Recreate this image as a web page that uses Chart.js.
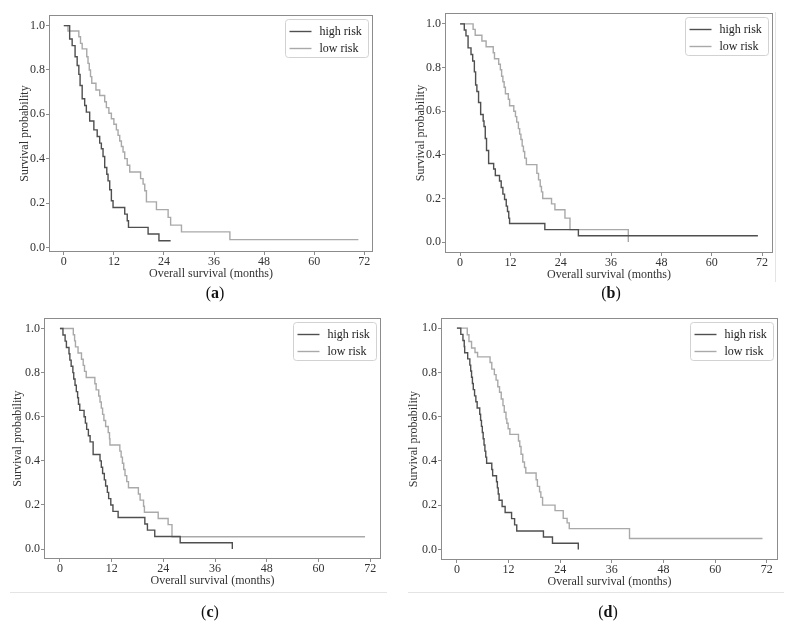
<!DOCTYPE html>
<html>
<head>
<meta charset="utf-8">
<script src="https://cdn.jsdelivr.net/npm/chart.js@4.4.1/dist/chart.umd.min.js"></script>
<style>
  body { margin: 0; background: #fff; width: 792px; height: 626px; position: relative; overflow: hidden; font-family: "Liberation Serif", serif; }
  canvas { position: absolute; }
  .lab { position: absolute; font-size: 16px; color: #111; transform: translate(-50%, -50%); z-index: 2; }
  .edge { position: absolute; background: #e4e4e4; }
</style>
</head>
<body>
<canvas id="chartA" width="396" height="300" style="left:0;top:0"></canvas>
<canvas id="chartB" width="396" height="300" style="left:396px;top:0"></canvas>
<canvas id="chartC" width="396" height="300" style="left:0;top:310px"></canvas>
<canvas id="chartD" width="396" height="300" style="left:396px;top:310px"></canvas>

<div class="edge" style="left:775px;top:12px;width:1px;height:270px"></div>
<div class="edge" style="left:10px;top:592px;width:377px;height:1px"></div>
<div class="edge" style="left:408px;top:592px;width:376px;height:1px"></div>

<div class="lab" style="left:215px;top:293px">(<b>a</b>)</div>
<div class="lab" style="left:611px;top:293px">(<b>b</b>)</div>
<div class="lab" style="left:210px;top:612px">(<b>c</b>)</div>
<div class="lab" style="left:608px;top:612px">(<b>d</b>)</div>

<script>
// Kaplan-Meier curves (months, survival probability)
const groupLabels = ['high risk', 'low risk'];
const xTicks = [0, 12, 24, 36, 48, 60, 72];
const yTicks = [0.0, 0.2, 0.4, 0.6, 0.8, 1.0];

// (a)
const aHighMonths = [0, 1.4, 2.0, 2.7, 3.2, 3.6, 3.9, 4.4, 5.0, 5.4, 6.2, 7.2, 8.0, 8.6, 9.0, 9.4, 9.8, 10.3, 10.6, 11.0, 11.4, 11.8, 14.6, 15.2, 15.5, 20.2, 22.8, 25.6];
const aHighSurv   = [1.0, 0.94, 0.91, 0.86, 0.82, 0.78, 0.73, 0.67, 0.64, 0.61, 0.57, 0.53, 0.50, 0.47, 0.445, 0.41, 0.36, 0.33, 0.30, 0.26, 0.21, 0.18, 0.15, 0.12, 0.09, 0.06, 0.03, 0.03];
const aLowMonths  = [0, 1.0, 3.6, 4.0, 4.4, 5.5, 5.8, 6.1, 6.4, 6.7, 7.7, 8.6, 9.8, 10.2, 10.8, 11.4, 12.0, 12.6, 13.0, 13.4, 13.8, 14.2, 14.6, 15.2, 15.8, 18.4, 19.0, 19.4, 19.8, 22.2, 25.0, 25.6, 28.2, 39.8, 70.6];
const aLowSurv    = [1.0, 0.976, 0.95, 0.92, 0.895, 0.86, 0.83, 0.80, 0.77, 0.74, 0.71, 0.685, 0.657, 0.63, 0.605, 0.58, 0.555, 0.53, 0.505, 0.48, 0.455, 0.43, 0.40, 0.37, 0.34, 0.31, 0.285, 0.255, 0.205, 0.17, 0.135, 0.10, 0.07, 0.035, 0.035];

// (b)
const bHighMonths = [0, 1.0, 1.4, 1.9, 2.6, 3.0, 3.4, 3.7, 4.0, 4.4, 4.9, 5.5, 5.7, 6.0, 6.3, 6.8, 8.0, 8.4, 9.4, 9.8, 10.2, 10.6, 11.0, 11.3, 11.6, 11.8, 20.2, 28.2, 71.0];
const bHighSurv   = [1.0, 0.972, 0.945, 0.89, 0.86, 0.83, 0.78, 0.72, 0.69, 0.64, 0.585, 0.555, 0.53, 0.475, 0.42, 0.36, 0.335, 0.305, 0.28, 0.25, 0.22, 0.195, 0.165, 0.14, 0.11, 0.085, 0.057, 0.029, 0.029];
const bLowMonths  = [0, 3.1, 3.6, 5.2, 6.2, 7.9, 8.2, 9.2, 9.6, 9.9, 10.2, 10.5, 10.8, 11.5, 11.8, 12.8, 13.2, 13.5, 13.9, 14.2, 14.5, 14.8, 15.1, 15.4, 15.8, 18.3, 18.7, 19.1, 19.4, 19.7, 21.8, 22.6, 25.0, 26.2, 40.1];
const bLowSurv    = [1.0, 0.975, 0.948, 0.922, 0.895, 0.868, 0.84, 0.815, 0.79, 0.76, 0.735, 0.71, 0.68, 0.655, 0.625, 0.60, 0.575, 0.55, 0.52, 0.495, 0.47, 0.44, 0.415, 0.385, 0.355, 0.315, 0.285, 0.255, 0.23, 0.20, 0.175, 0.148, 0.11, 0.057, 0.0];

// (c)
const cHighMonths = [0, 0.7, 1.2, 1.5, 2.1, 2.3, 2.6, 3.0, 3.2, 3.5, 3.8, 4.1, 4.3, 4.6, 5.6, 5.9, 6.2, 6.6, 7.0, 7.7, 9.3, 9.6, 9.9, 10.3, 10.6, 11.0, 11.3, 11.8, 12.3, 13.5, 19.7, 20.3, 22.0, 27.9, 40.0];
const cHighSurv   = [1.0, 0.971, 0.943, 0.914, 0.886, 0.857, 0.829, 0.80, 0.771, 0.743, 0.714, 0.686, 0.657, 0.629, 0.60, 0.571, 0.543, 0.514, 0.486, 0.429, 0.40, 0.371, 0.343, 0.314, 0.286, 0.257, 0.229, 0.20, 0.171, 0.143, 0.114, 0.086, 0.057, 0.029, 0.0];
const cLowMonths  = [0, 3.1, 3.4, 3.6, 4.2, 5.0, 5.4, 5.7, 6.1, 8.1, 8.4, 9.0, 9.3, 9.6, 9.9, 10.2, 10.6, 11.2, 11.5, 11.6, 13.9, 14.2, 14.5, 14.8, 15.1, 15.5, 15.9, 18.2, 18.6, 19.4, 19.6, 22.8, 25.1, 26.0, 70.8];
const cLowSurv    = [1.0, 0.972, 0.944, 0.917, 0.889, 0.861, 0.833, 0.806, 0.778, 0.75, 0.722, 0.694, 0.667, 0.639, 0.611, 0.583, 0.556, 0.528, 0.50, 0.472, 0.444, 0.417, 0.389, 0.361, 0.333, 0.306, 0.278, 0.25, 0.222, 0.194, 0.167, 0.139, 0.111, 0.056, 0.056];

// (d)
const dHighMonths = [0, 0.9, 1.4, 1.7, 1.8, 2.5, 3.0, 3.2, 3.4, 3.6, 3.8, 4.1, 4.4, 4.7, 5.3, 5.5, 5.7, 5.9, 6.1, 6.3, 6.5, 6.7, 6.9, 8.1, 8.3, 9.2, 9.4, 9.6, 9.8, 10.5, 11.2, 12.7, 13.4, 13.9, 20.1, 22.2, 28.2];
const dHighSurv   = [1.0, 0.972, 0.944, 0.917, 0.889, 0.861, 0.833, 0.806, 0.778, 0.75, 0.722, 0.694, 0.667, 0.639, 0.611, 0.583, 0.556, 0.528, 0.50, 0.472, 0.444, 0.417, 0.389, 0.361, 0.333, 0.306, 0.278, 0.25, 0.222, 0.194, 0.167, 0.139, 0.111, 0.083, 0.056, 0.028, 0.0];
const dLowMonths  = [0, 2.4, 2.8, 3.4, 4.2, 4.8, 7.7, 8.1, 8.7, 9.1, 9.5, 9.9, 10.3, 10.7, 11.0, 11.4, 11.6, 11.9, 12.3, 14.3, 14.6, 14.9, 15.3, 15.7, 16.0, 18.4, 18.7, 19.2, 19.5, 19.9, 22.8, 24.7, 25.6, 26.1, 40.1, 71.0];
const dLowSurv    = [1.0, 0.97, 0.94, 0.91, 0.89, 0.87, 0.845, 0.815, 0.79, 0.765, 0.735, 0.71, 0.68, 0.65, 0.62, 0.59, 0.57, 0.545, 0.52, 0.49, 0.465, 0.43, 0.395, 0.37, 0.345, 0.315, 0.285, 0.26, 0.235, 0.20, 0.175, 0.14, 0.12, 0.094, 0.049, 0.049];

const HIGH_COLOR = '#4f4f4f';
const LOW_COLOR = '#a9a9a9';
const FRAME_COLOR = '#8c8c8c';
const FONT = '"Liberation Serif", serif';
const AXIS_FONT_SIZE = 12;

// frame box + legend inside the plot, top right
const framePlugin = {
  id: 'frameLegend',
  afterDraw(chart) {
    const { ctx, chartArea: a } = chart;
    ctx.save();
    ctx.strokeStyle = FRAME_COLOR;
    ctx.lineWidth = 1;
    ctx.strokeRect(Math.round(a.left) + 0.5, Math.round(a.top) + 0.5,
      Math.round(a.right - a.left) - 1, Math.round(a.bottom - a.top) - 1);

    const w = 83, h = 38;
    const bx = Math.round(a.right - 5 - w) + 0.5, by = Math.round(a.top + 4) + 0.5;
    ctx.beginPath();
    ctx.roundRect(bx, by, w, h, 3);
    ctx.fillStyle = '#fff';
    ctx.fill();
    ctx.strokeStyle = '#d2d2d2';
    ctx.stroke();

    ctx.font = '12px ' + FONT;
    ctx.textBaseline = 'middle';
    chart.data.datasets.forEach((ds, i) => {
      const y = Math.round(by + 11 + i * 17) + 0.5;
      ctx.beginPath();
      ctx.moveTo(bx + 4, y);
      ctx.lineTo(bx + 26, y);
      ctx.strokeStyle = ds.borderColor;
      ctx.lineWidth = 1.4;
      ctx.stroke();
      ctx.fillStyle = '#222';
      ctx.fillText(ds.label, bx + 34, y);
    });
    ctx.restore();
  }
};

function toPoints(months, surv) {
  return months.map((m, i) => ({ x: m, y: surv[i] }));
}

function drawPanel(canvasId, g, high, low) {
  const half = AXIS_FONT_SIZE * 1.2 / 2;
  const padL = g.titleX - g.ox - half;
  const yW = g.l - g.ox - padL;
  const xH = 29;
  const ctx = document.getElementById(canvasId).getContext('2d');
  return new Chart(ctx, {
    type: 'line',
    data: {
      datasets: [
        { label: groupLabels[0], data: toPoints(high[0], high[1]), borderColor: HIGH_COLOR },
        { label: groupLabels[1], data: toPoints(low[0], low[1]), borderColor: LOW_COLOR }
      ].map(ds => Object.assign(ds, { stepped: true, borderWidth: 1.4, pointRadius: 0, fill: false, tension: 0 }))
    },
    options: {
      responsive: false,
      animation: false,
      events: [],
      layout: {
        padding: { left: padL, top: g.t - g.oy, right: g.ox + 396 - g.r, bottom: g.oy + 300 - g.b - xH }
      },
      plugins: { legend: { display: false }, tooltip: { enabled: false } },
      scales: {
        x: {
          type: 'linear',
          min: g.xMin, max: g.xMax,
          afterBuildTicks: s => { s.ticks = xTicks.map(v => ({ value: v })); },
          afterFit: s => { s.height = xH; },
          grid: { drawOnChartArea: false, tickLength: 3, color: FRAME_COLOR },
          border: { display: false },
          ticks: { padding: 0, color: '#333', font: { family: FONT, size: AXIS_FONT_SIZE }, callback: v => String(v), maxRotation: 0 },
          title: { display: true, text: 'Overall survival (months)', color: '#333', font: { family: FONT, size: AXIS_FONT_SIZE }, padding: 0 }
        },
        y: {
          type: 'linear',
          min: g.yMin, max: g.yMax,
          afterBuildTicks: s => { s.ticks = yTicks.map(v => ({ value: v })); },
          afterFit: s => { s.width = yW; },
          grid: { drawOnChartArea: false, tickLength: 3, color: FRAME_COLOR },
          border: { display: false },
          ticks: { padding: 1, color: '#333', font: { family: FONT, size: AXIS_FONT_SIZE }, callback: v => v.toFixed(1) },
          title: { display: true, text: 'Survival probability', color: '#333', font: { family: FONT, size: AXIS_FONT_SIZE }, padding: 0 }
        }
      }
    },
    plugins: [framePlugin]
  });
}

drawPanel('chartA', { ox: 0, oy: 0, l: 49, r: 373, t: 15, b: 252, titleX: 25, xMin: -3.55, xMax: 74.1, yMin: -0.021, yMax: 1.048 },
  [aHighMonths, aHighSurv], [aLowMonths, aLowSurv]);
drawPanel('chartB', { ox: 396, oy: 0, l: 445, r: 773, t: 13, b: 253, titleX: 421, xMin: -3.6, xMax: 74.6, yMin: -0.05, yMax: 1.05 },
  [bHighMonths, bHighSurv], [bLowMonths, bLowSurv]);
drawPanel('chartC', { ox: 0, oy: 310, l: 44, r: 381, t: 315, b: 559, titleX: 18, xMin: -3.7, xMax: 74.5, yMin: -0.045, yMax: 1.047 },
  [cHighMonths, cHighSurv], [cLowMonths, cLowSurv]);
drawPanel('chartD', { ox: 396, oy: 310, l: 441, r: 778, t: 315, b: 560, titleX: 414, xMin: -3.7, xMax: 74.6, yMin: -0.048, yMax: 1.045 },
  [dHighMonths, dHighSurv], [dLowMonths, dLowSurv]);
</script>
</body>
</html>
